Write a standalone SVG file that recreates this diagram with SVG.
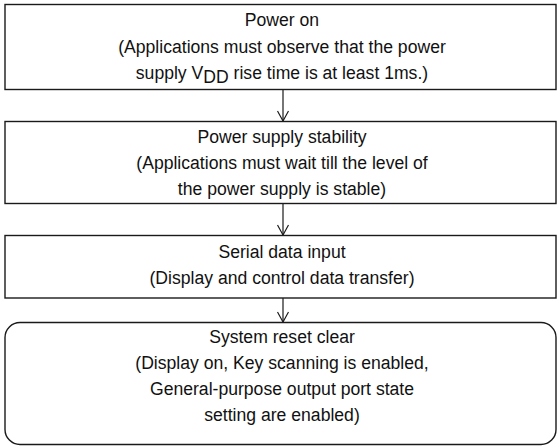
<svg xmlns="http://www.w3.org/2000/svg" width="558" height="447" viewBox="0 0 558 447">
  <defs>
    <style>
      .box { fill: #fff; stroke: #1a1a1a; stroke-width: 1.4; }
      .t { font-family: "Liberation Sans", Arial, sans-serif; font-size: 17.6px; fill: #111; text-anchor: middle; }
      .conn { stroke: #1a1a1a; stroke-width: 1.2; fill: none; }
    </style>
    <marker id="arr" viewBox="0 0 12 12" refX="11" refY="6" markerWidth="12" markerHeight="12" markerUnits="userSpaceOnUse" orient="auto">
      <path d="M1,0.5 L11,6 L1,11.5" fill="none" stroke="#1a1a1a" stroke-width="1.2"/>
    </marker>
  </defs>
  <rect width="558" height="447" fill="#fff"/>

  <g id="connectors">
    <line class="conn" x1="283" y1="90" x2="283" y2="121" marker-end="url(#arr)"/>
    <line class="conn" x1="283" y1="204" x2="283" y2="235" marker-end="url(#arr)"/>
    <line class="conn" x1="283" y1="298" x2="283" y2="322" marker-end="url(#arr)"/>
  </g>

  <g id="power-on">
    <rect class="box" x="5" y="4.5" width="551" height="85"/>
    <text class="t" x="282" y="26">Power on</text>
    <text class="t" x="282" y="53">(Applications must observe that the power</text>
    <text class="t" x="282" y="79">supply V<tspan dy="4">DD</tspan><tspan dy="-4"> rise time is at least 1ms.)</tspan></text>
  </g>

  <g id="power-stability">
    <rect class="box" x="5" y="121.5" width="551" height="82"/>
    <text class="t" x="282" y="143">Power supply stability</text>
    <text class="t" x="282" y="169">(Applications must wait till the level of</text>
    <text class="t" x="282" y="195">the power supply is stable)</text>
  </g>

  <g id="serial-input">
    <rect class="box" x="5" y="235.5" width="551" height="62.5"/>
    <text class="t" x="282" y="258">Serial data input</text>
    <text class="t" x="282" y="284">(Display and control data transfer)</text>
  </g>

  <g id="reset-clear">
    <rect class="box" x="5" y="322.5" width="551" height="122" rx="15" ry="15"/>
    <text class="t" x="282" y="343">System reset clear</text>
    <text class="t" x="282" y="369">(Display on, Key scanning is enabled,</text>
    <text class="t" x="282" y="395">General-purpose output port state</text>
    <text class="t" x="282" y="421">setting are enabled)</text>
  </g>
</svg>
